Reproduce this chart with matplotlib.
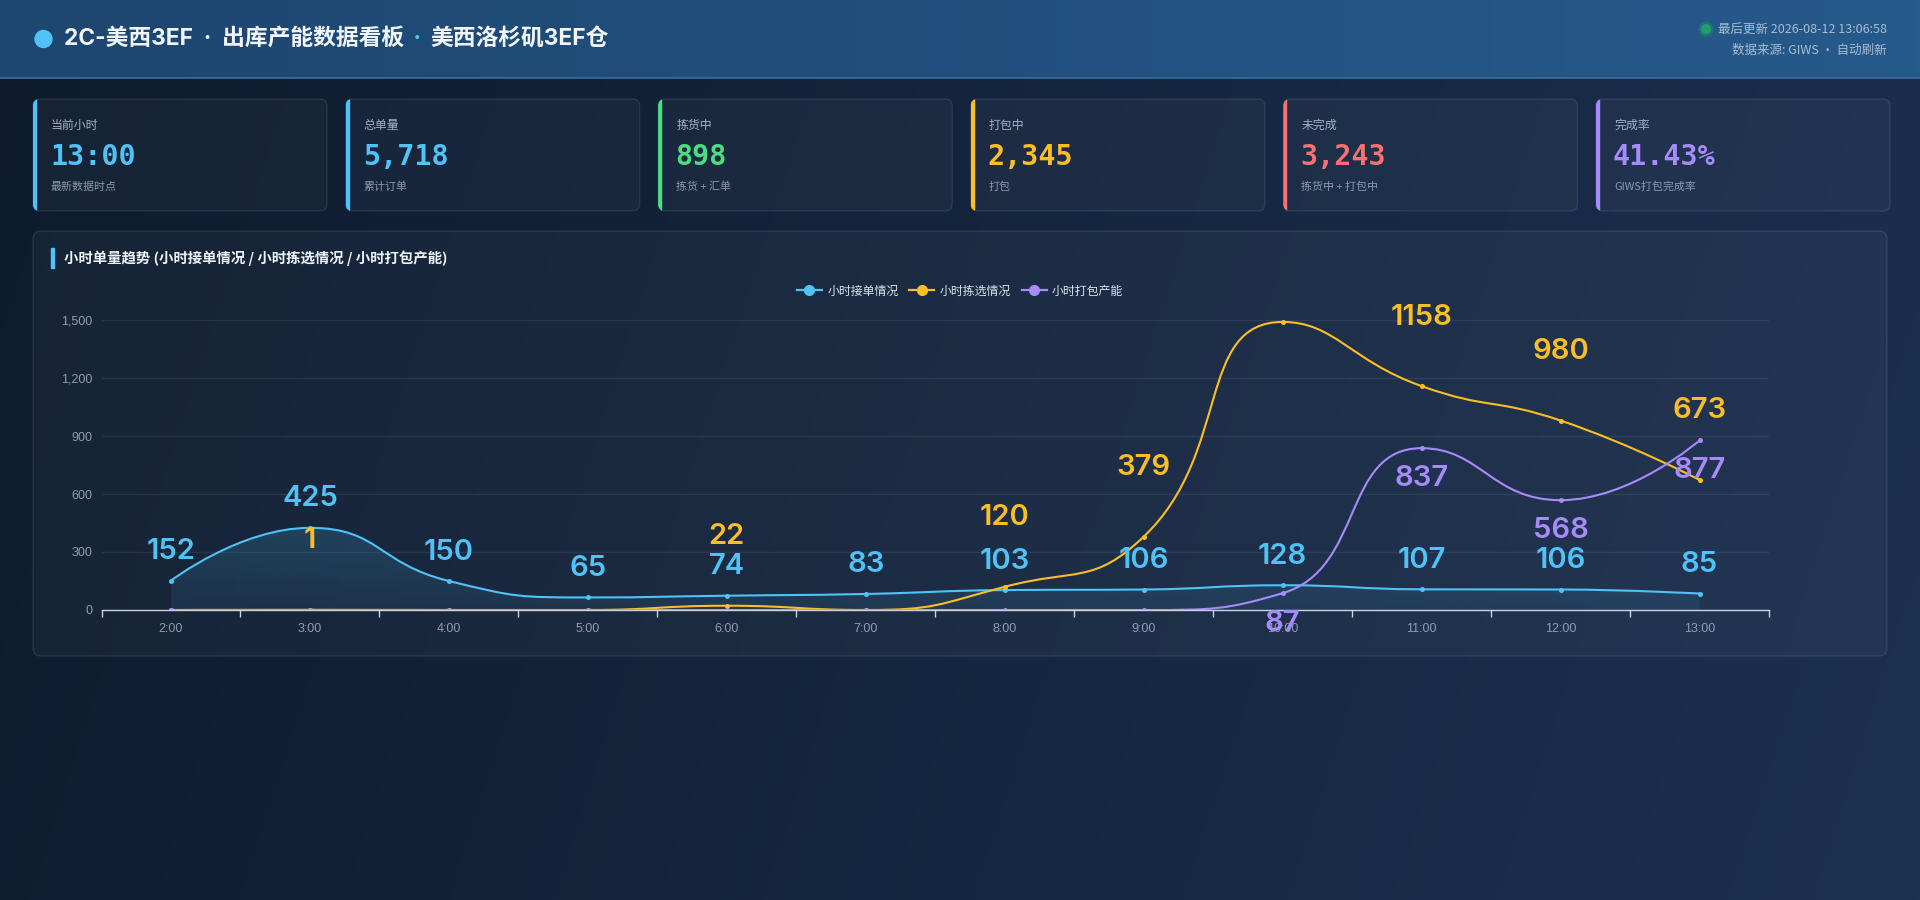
import numpy as np
import matplotlib
matplotlib.use('Agg')
import matplotlib.pyplot as plt
from matplotlib.patches import FancyBboxPatch, Rectangle, Circle, PathPatch
from matplotlib.path import Path
from matplotlib.lines import Line2D
from matplotlib.colors import to_rgb

CJK = ['Noto Sans CJK SC', 'DejaVu Sans']
plt.rcParams['font.family'] = CJK

# ---- data ----
hours = ['2:00', '3:00', '4:00', '5:00', '6:00', '7:00',
         '8:00', '9:00', '10:00', '11:00', '12:00', '13:00']
orders = [152, 425, 150, 65, 74, 83, 103, 106, 128, 107, 106, 85]
picking = [0, 1, 0, 0, 22, 0, 120, 379, 1490, 1158, 980, 673]
packing = [0, 0, 0, 0, 0, 0, 0, 0, 87, 837, 568, 877]
series_names = ['小时接单情况', '小时拣选情况', '小时打包产能']
# the source hides the picking label at 10:00
hidden_pick_labels = ['10:00']

card_titles = ['当前小时', '总单量', '拣货中', '打包中', '未完成', '完成率']
card_values = ['13:00', '5,718', '898', '2,345', '3,243', '41.43%']
card_notes = ['最新数据时点', '累计订单', '拣货 + 汇单', '打包', '拣货中 + 打包中', 'GIWS打包完成率']

title_main = '2C-美西3EF  ·  出库产能数据看板'
title_site = '美西洛杉矶3EF仓'
update_text = '最后更新 2026-08-12 13:06:58'
source_text = '数据来源: GIWS · 自动刷新'
chart_title = '小时单量趋势 (小时接单情况 / 小时拣选情况 / 小时打包产能)'

BLUE = '#4fc3f7'
YELLOW = '#fbbf24'
PURPLE = '#a78bfa'
GREEN = '#4ade80'
RED = '#f87171'
card_colors = [BLUE, BLUE, GREEN, YELLOW, RED, PURPLE]

W, H = 1920, 900
fig = plt.figure(figsize=(W / 100, H / 100), dpi=100)

# full-figure pixel canvas for the page decoration (y goes down)
deco = fig.add_axes([0, 0, 1, 1], zorder=0)
deco.set_xlim(0, W)
deco.set_ylim(H, 0)
deco.axis('off')


def gradient(c0, c1, nx, ny, tilt=0.15):
    gx = np.linspace(0, 1, nx)[None, :]
    gy = np.linspace(0, 1, ny)[:, None]
    t = np.clip((gx + tilt * gy) / (1 + tilt), 0, 1)[..., None]
    return np.array(to_rgb(c0)) * (1 - t) + np.array(to_rgb(c1)) * t


deco.imshow(gradient('#0d1b2d', '#1c3050', 400, 200), extent=(0, W, H, 0),
            aspect='auto', zorder=0)
# header band
deco.imshow(gradient('#1d4670', '#265a8b', 400, 20, tilt=0.0), extent=(0, W, 78, 0),
            aspect='auto', zorder=1)
deco.plot([0, W], [78, 78], color='#3d6d9c', lw=1.2, zorder=2)

# header title
deco.add_patch(Circle((43.5, 39), 8.5, color=BLUE, zorder=3))
renderer = fig.canvas.get_renderer()
inv = deco.transData.inverted()


def put(x, y, s, **kw):
    t = deco.text(x, y, s, **kw)
    bb = t.get_window_extent(renderer)
    return inv.transform((bb.x1, bb.y0))[0]


tk = dict(fontsize=16.4, fontweight='bold', va='center', ha='left', zorder=3,
          family=['Inter', 'Noto Sans CJK SC', 'DejaVu Sans'])
x = put(64, 39, title_main, color='#f1f5f9', **tk)
x = put(x + 4, 39, ' · ', color=BLUE, **tk)
put(x + 4, 39, title_site, color='#f1f5f9', **tk)

deco.text(1887, 29, update_text, fontsize=9, color='#a9bdd3', ha='right', va='center', zorder=3)
deco.add_patch(Circle((1706, 29), 4.5, color='#1f9d6b', zorder=3))
deco.add_patch(Circle((1706, 29), 7, color='#1f9d6b', alpha=0.25, zorder=3))
deco.text(1887, 50, source_text, fontsize=9, color='#a9bdd3', ha='right', va='center', zorder=3)


def rounded_box(x0, y0, w, h, r=7, fc='#ffffff', fa=0.035, ec='#ffffff', ea=0.09):
    box = FancyBboxPatch((x0, y0), w, h, boxstyle=f'round,pad=0,rounding_size={r}',
                         facecolor=fc, edgecolor='none', alpha=fa, zorder=2)
    deco.add_patch(box)
    edge = FancyBboxPatch((x0, y0), w, h, boxstyle=f'round,pad=0,rounding_size={r}',
                          facecolor='none', edgecolor=ec, alpha=ea, lw=1, zorder=2)
    deco.add_patch(edge)
    return box


# KPI cards
card_w, card_gap = 294, 18.6
for i in range(6):
    x0 = 33 + i * (card_w + card_gap)
    box = rounded_box(x0, 99, card_w, 112)
    bar = Rectangle((x0, 99), 3, 112, color=card_colors[i], zorder=3)
    deco.add_patch(bar)
    bar.set_clip_path(box)
    deco.text(x0 + 18, 125, card_titles[i], fontsize=8.6, color='#a3b3c7', va='center', zorder=3)
    deco.text(x0 + 17, 157, card_values[i], fontsize=20.4, fontweight='bold',
              family=['DejaVu Sans Mono'], color=card_colors[i], va='center', zorder=3)
    deco.text(x0 + 18, 187, card_notes[i], fontsize=7.9, color='#8a9ab0', va='center', zorder=3)

# chart panel
rounded_box(33, 231, 1854, 425, r=8)
deco.add_patch(Rectangle((50.5, 248), 3, 20, color=BLUE, zorder=3))
deco.text(64, 258, chart_title, fontsize=10.4, fontweight='bold', color='#eef3f8',
          va='center', zorder=3)

# ---- line chart ----
ax = fig.add_axes([101.5 / W, 1 - 610 / H, (1769 - 101.5) / W, 290 / H], zorder=1)
ax.set_facecolor('none')
xs = np.arange(len(hours))
ax.set_xlim(-0.5, len(hours) - 0.5)
ax.set_ylim(0, 1500)
ax.set_yticks(range(0, 1501, 300))
ax.set_yticklabels([f'{v:,}' for v in range(0, 1501, 300)])
ax.set_xticks(np.arange(-0.5, len(hours), 1))
ax.set_xticklabels([])
ax.set_xticks(xs, minor=True)
ax.set_xticklabels(hours, minor=True)
ax.tick_params(axis='x', which='major', length=5, color='#c9d2de', width=1)
ax.tick_params(axis='x', which='minor', length=0, pad=9, labelsize=9, labelcolor='#8d9db3')
ax.tick_params(axis='y', length=0, pad=6.5, labelsize=9, labelcolor='#8d9db3')
for lab in ax.get_xticklabels(minor=True) + ax.get_yticklabels():
    lab.set_family(['Liberation Sans', 'DejaVu Sans'])
for s in ['top', 'right', 'left']:
    ax.spines[s].set_visible(False)
ax.spines['bottom'].set_color('#c9d2de')
ax.spines['bottom'].set_linewidth(1)
ax.grid(axis='y', color='#ffffff', alpha=0.07, lw=1)
ax.set_axisbelow(True)


def smooth_verts(vals, smooth=0.5):
    # echarts style bezier smoothing, computed in pixel space
    pts = ax.transData.transform(np.column_stack([xs, vals]))
    px, py = pts[:, 0], pts[:, 1]
    n = len(px)
    verts = [(px[0], py[0])]
    codes = [Path.MOVETO]
    cx0, cy0 = px[0], py[0]
    for i in range(1, n):
        x, y = px[i], py[i]
        x_p, y_p = px[i - 1], py[i - 1]
        if i == n - 1:
            cx1, cy1 = x, y
            nx_, ny_ = x, y
        else:
            x_n, y_n = px[i + 1], py[i + 1]
            vx, vy = x_n - x_p, y_n - y_p
            lp = np.hypot(x - x_p, y - y_p)
            ln = np.hypot(x_n - x, y_n - y)
            r = ln / (ln + lp)
            nx_ = x + vx * smooth * r
            ny_ = y + vy * smooth * r
            nx_ = max(min(nx_, max(x_n, x)), min(x_n, x))
            ny_ = max(min(ny_, max(y_n, y)), min(y_n, y))
            vx, vy = nx_ - x, ny_ - y
            cx1 = x - vx * lp / ln
            cy1 = y - vy * lp / ln
            cx1 = max(min(cx1, max(x_p, x)), min(x_p, x))
            cy1 = max(min(cy1, max(y_p, y)), min(y_p, y))
            vx, vy = x - cx1, y - cy1
            nx_ = x + vx * ln / lp
            ny_ = y + vy * ln / lp
        verts += [(cx0, cy0), (cx1, cy1), (x, y)]
        codes += [Path.CURVE4] * 3
        cx0, cy0 = nx_, ny_
    data_verts = ax.transData.inverted().transform(np.array(verts))
    return data_verts, codes


series = [(orders, BLUE), (picking, YELLOW), (packing, PURPLE)]

# area under the order line
v, c = smooth_verts(orders)
area_v = np.vstack([v, [[xs[-1], 0], [xs[0], 0], [xs[0], 0]]])
area_c = c + [Path.LINETO, Path.LINETO, Path.CLOSEPOLY]
area = PathPatch(Path(area_v, area_c), facecolor='none', edgecolor='none')
ax.add_patch(area)
grad = np.zeros((100, 2, 4))
grad[..., :3] = to_rgb(BLUE)
grad[..., 3] = np.linspace(0.18, 0.08, 100)[:, None]
im = ax.imshow(grad, extent=(xs[0], xs[-1], 0, max(orders)), origin='upper',
               aspect='auto', zorder=1.5)
im.set_clip_path(area)

for k, (vals, col) in enumerate(series):
    v, c = smooth_verts(vals)
    ax.add_patch(PathPatch(Path(v, c), facecolor='none', edgecolor=col, lw=1.5,
                           zorder=2 + k * 0.1))
    ax.plot(xs, vals, 'o', color=col, ms=2.6, zorder=2.05 + k * 0.1)

# value labels
lab_font = ['Inter', 'Liberation Sans', 'DejaVu Sans']
offsets = [29, 69, -30]
for k, (vals, col) in enumerate(series):
    for i, val in enumerate(vals):
        if val == 0:
            continue
        if k == 1 and hours[i] in hidden_pick_labels:
            continue
        ax.annotate(str(val), (xs[i], val), xytext=(0, offsets[k]), textcoords='offset pixels',
                    ha='center', va='center', fontsize=21, fontweight='semibold', color=col,
                    family=lab_font, zorder=5 + k, annotation_clip=False)

# legend
handles = [Line2D([], [], color=col, lw=1.6, marker='o', ms=7) for _, col in series]
leg = fig.legend(handles, series_names, loc='center', bbox_to_anchor=(960 / W, 1 - 291 / H),
                 ncol=3, frameon=False, fontsize=8.6, handlelength=2.1, handletextpad=0.45,
                 columnspacing=0.9, labelcolor='#dbe4ef')

fig.savefig('out.png', dpi=100)
